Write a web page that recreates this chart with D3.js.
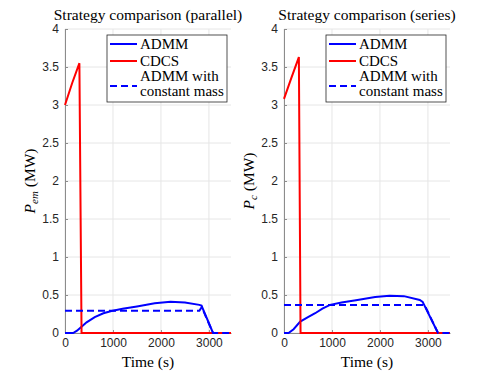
<!DOCTYPE html>
<html>
<head>
<meta charset="utf-8">
<script src="https://cdn.jsdelivr.net/npm/d3@7"></script>
<style>
  body { margin: 0; background: #fff; }
  .tick text { font-family: "Liberation Sans", Arial, sans-serif; font-size: 12px; fill: #262626; }
</style>
</head>
<body>
<div id="chart"></div>
<script>
// parallel strategy
var tAdmmPar = [0, 170, 250, 345, 450, 620, 800, 970, 1200, 1500, 1870, 2200, 2500, 2800, 2845, 3085, 3460];
var admmPar  = [0, 0, 0.03, 0.083, 0.14, 0.21, 0.26, 0.29, 0.32, 0.35, 0.39, 0.41, 0.40, 0.37, 0.36, 0, 0];
var tCdcsPar = [0, 150, 300, 345, 3460];
var cdcsPar  = [3.0, 3.29, 3.55, 0, 0];
var tConstPar = [0, 2800, 2850, 3085, 3460];
var constPar  = [0.293, 0.293, 0.34, 0, 0];

// series strategy
var tAdmmSer = [0, 95, 200, 338, 500, 650, 800, 960, 1200, 1500, 1900, 2200, 2500, 2830, 2890, 3210, 3460];
var admmSer  = [0, 0, 0.05, 0.15, 0.21, 0.26, 0.32, 0.37, 0.40, 0.43, 0.475, 0.49, 0.485, 0.434, 0.41, 0, 0];
var tCdcsSer = [0, 150, 310, 345, 3460];
var cdcsSer  = [3.08, 3.35, 3.63, 0, 0];
var tConstSer = [0, 2930, 3210, 3460];
var constSer  = [0.368, 0.368, 0, 0];

var xTicks = [0, 1000, 2000, 3000];
var yTicks = [0, 0.5, 1, 1.5, 2, 2.5, 3, 3.5, 4];
var legendLabels = ["ADMM", "CDCS", "ADMM with", "constant mass"];

var serif = "'Liberation Serif', 'Times New Roman', serif";

var svg = d3.select("#chart").append("svg")
  .attr("width", 498)
  .attr("height", 374);

function zip(t, v) { return t.map(function(d, i) { return [d, v[i]]; }); }

function drawPanel(left, title, sub, admm, cdcs, cmass) {
  var width = 166, top = 29, height = 304;
  var g = svg.append("g").attr("transform", "translate(" + left + "," + top + ")");

  var x = d3.scaleLinear().domain([0, 3460]).range([0, width]);
  var y = d3.scaleLinear().domain([0, 4]).range([height, 0]);

  // grid
  g.selectAll(".gx").data(xTicks).enter().append("line")
    .attr("x1", x).attr("x2", x).attr("y1", 0).attr("y2", height)
    .attr("stroke", "#e6e6e6");
  g.selectAll(".gy").data(yTicks).enter().append("line")
    .attr("y1", y).attr("y2", y).attr("x1", 0).attr("x2", width)
    .attr("stroke", "#e6e6e6");

  var xa = g.append("g").attr("transform", "translate(0," + height + ")")
    .call(d3.axisBottom(x).tickValues(xTicks).tickSizeInner(-3).tickSizeOuter(0).tickPadding(5)
      .tickFormat(d3.format("d")));
  var ya = g.append("g")
    .call(d3.axisLeft(y).tickValues(yTicks).tickSizeInner(-3).tickSizeOuter(0).tickPadding(6)
      .tickFormat(d3.format("")));
  [xa, ya].forEach(function(a) {
    a.select(".domain").attr("stroke", "#8c8c8c");
    a.selectAll(".tick line").attr("stroke", "#8c8c8c");
  });

  var line = d3.line().x(function(d) { return x(d[0]); }).y(function(d) { return y(d[1]); });

  g.append("path").datum(admm).attr("d", line)
    .attr("fill", "none").attr("stroke", "#0000ff").attr("stroke-width", 2);
  g.append("path").datum(cdcs).attr("d", line)
    .attr("fill", "none").attr("stroke", "#ff0000").attr("stroke-width", 2);
  g.append("path").datum(cmass).attr("d", line)
    .attr("fill", "none").attr("stroke", "#0000ff").attr("stroke-width", 2)
    .attr("stroke-dasharray", "7,4");

  // title
  svg.append("text").attr("font-family", serif)
    .attr("x", left + width / 2).attr("y", 20)
    .attr("text-anchor", "middle").attr("font-size", 15.5).attr("fill", "#000")
    .text(title);

  // x label
  svg.append("text").attr("font-family", serif)
    .attr("x", left + width / 2).attr("y", 367)
    .attr("text-anchor", "middle").attr("font-size", 15.5)
    .text("Time (s)");

  // y label
  var yl = svg.append("text").attr("font-family", serif)
    .attr("transform", "translate(" + (left - 30) + "," + (top + height / 2) + ") rotate(-90)")
    .attr("text-anchor", "middle").attr("font-size", 15.5);
  yl.append("tspan").attr("font-style", "italic").text("P");
  yl.append("tspan").attr("font-style", "italic").attr("font-size", 11).attr("dy", 3).text(sub);
  yl.append("tspan").attr("dy", -3).text(" (MW)");

  // legend
  var lg = g.append("g").attr("transform", "translate(" + (width - 124) + ",6)");
  lg.append("rect").attr("width", 120).attr("height", 67)
    .attr("fill", "#fff").attr("stroke", "#262626").attr("stroke-width", 0.8);
  var rows = [
    {ly: 9, color: "#0000ff", dash: null, texts: [[legendLabels[0], 14]]},
    {ly: 26, color: "#ff0000", dash: null, texts: [[legendLabels[1], 31]]},
    {ly: 51, color: "#0000ff", dash: "7,4", texts: [[legendLabels[2], 46], [legendLabels[3], 61]]}
  ];
  rows.forEach(function(r) {
    var l = lg.append("line").attr("x1", 3).attr("x2", 30).attr("y1", r.ly).attr("y2", r.ly)
      .attr("stroke", r.color).attr("stroke-width", 2);
    if (r.dash) l.attr("stroke-dasharray", r.dash);
    r.texts.forEach(function(t) {
      lg.append("text").attr("font-family", serif).attr("x", 33).attr("y", t[1])
        .attr("font-size", 15).text(t[0]);
    });
  });
}

drawPanel(65, "Strategy comparison (parallel)", "em", zip(tAdmmPar, admmPar), zip(tCdcsPar, cdcsPar), zip(tConstPar, constPar));
drawPanel(284, "Strategy comparison (series)", "c", zip(tAdmmSer, admmSer), zip(tCdcsSer, cdcsSer), zip(tConstSer, constSer));
</script>
</body>
</html>
